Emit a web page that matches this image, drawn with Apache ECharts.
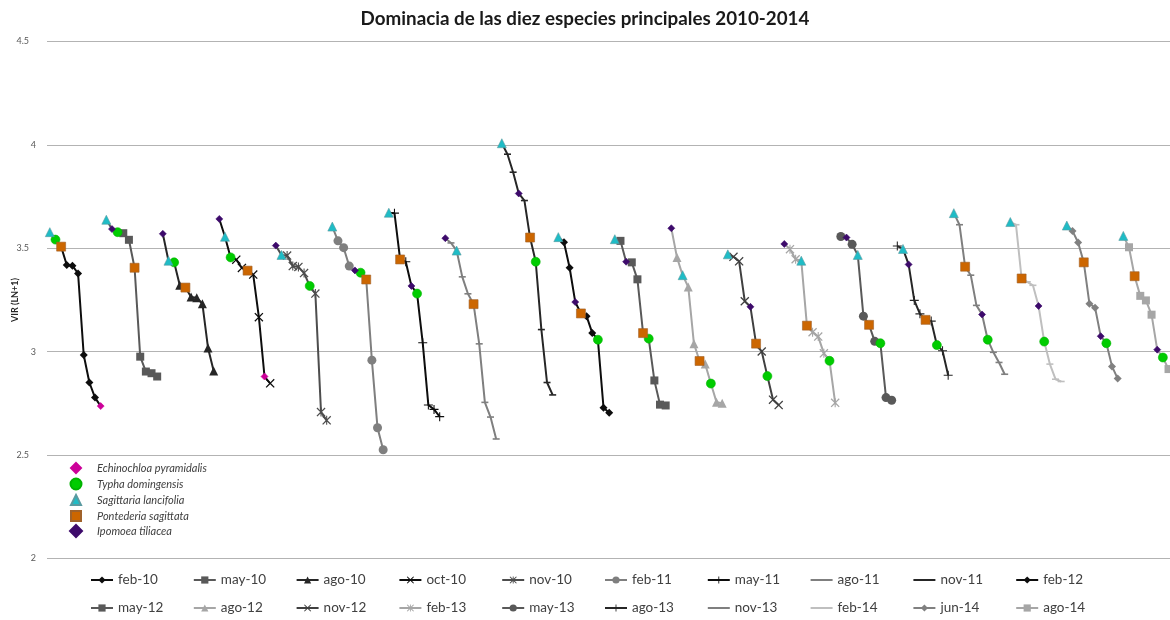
<!DOCTYPE html>
<html>
<head>
<meta charset="utf-8">
<script src="https://cdn.jsdelivr.net/npm/echarts@6/dist/echarts.min.js"></script>
<style>
  html, body { margin: 0; padding: 0; background: #ffffff; }
  #chart { width: 1170px; height: 620px; }
</style>
</head>
<body>
<div id="chart"></div>
<script>
// Sampling dates (one line each), ten ranked species per date
const dates = ['feb-10','may-10','ago-10','oct-10','nov-10','feb-11','may-11','ago-11','nov-11','feb-12',
               'may-12','ago-12','nov-12','feb-13','may-13','ago-13','nov-13','feb-14','jun-14','ago-14'];

// VIR (LN+1) of the ten dominant species, ranked, per date
const feb10 = [3.578,3.542,3.508,3.419,3.416,3.378,2.984,2.851,2.778,2.737];
const may10 = [3.638,3.593,3.578,3.573,3.541,3.406,2.976,2.904,2.896,2.880];
const ago10 = [3.570,3.440,3.432,3.321,3.310,3.265,3.261,3.232,3.018,2.907];
const oct10 = [3.642,3.556,3.456,3.445,3.405,3.392,3.373,3.167,2.880,2.847];
const nov10 = [3.513,3.468,3.465,3.414,3.410,3.380,3.318,3.281,2.708,2.668];
const feb11 = [3.605,3.536,3.503,3.414,3.393,3.382,3.349,2.959,2.632,2.526];
const may11 = [3.672,3.670,3.446,3.435,3.318,3.281,3.043,2.742,2.721,2.686];
const ago11 = [3.549,3.526,3.489,3.362,3.280,3.230,3.038,2.755,2.684,2.578];
const nov11 = [4.008,3.955,3.868,3.765,3.731,3.552,3.435,3.107,2.851,2.791];
const feb12 = [3.554,3.529,3.406,3.240,3.185,3.172,3.091,3.058,2.729,2.705];
const may12 = [3.544,3.536,3.435,3.432,3.350,3.090,3.063,2.861,2.744,2.740];
const ago12 = [3.597,3.456,3.370,3.313,3.039,2.955,2.940,2.846,2.756,2.751];
const nov12 = [3.471,3.459,3.437,3.244,3.217,3.039,3.001,2.882,2.768,2.742];
const feb13 = [3.521,3.496,3.447,3.440,3.126,3.094,3.073,2.992,2.956,2.753];
const may13 = [3.557,3.552,3.519,3.468,3.172,3.130,3.050,3.041,2.778,2.765];
const ago13 = [3.511,3.497,3.422,3.248,3.183,3.154,3.148,3.032,3.005,2.886];
const nov13 = [3.670,3.614,3.411,3.370,3.224,3.180,3.058,2.997,2.948,2.891];
const feb14 = [3.627,3.614,3.354,3.338,3.321,3.221,3.049,2.940,2.867,2.856];
const jun14 = [3.610,3.584,3.528,3.432,3.232,3.213,3.075,3.041,2.929,2.870];
const ago14 = [3.560,3.505,3.365,3.270,3.248,3.179,3.010,2.972,2.916,2.885];

const dateValues = [feb10,may10,ago10,oct10,nov10,feb11,may11,ago11,nov11,feb12,
                    may12,ago12,nov12,feb13,may13,ago13,nov13,feb14,jun14,ago14];

// Rank (1 = most dominant) of each highlighted species at each date; null = not among the ten
const echinochloaRank = [10,null,null,9,null,null,null,null,null,null,null,null,null,null,null,null,null,null,null,null];
const typhaRank       = [2,3,3,3,7,6,6,null,7,8,7,8,8,9,8,8,7,7,8,8];
const sagittariaRank  = [1,1,2,2,2,1,1,3,1,1,1,3,1,4,4,2,1,1,1,1];
const pontederiaRank  = [3,6,5,6,null,7,3,6,6,5,6,6,6,5,6,6,3,3,4,3];
const ipomoeaRank     = [null,2,1,1,1,5,5,1,4,4,3,1,5,1,2,3,6,6,7,7];

// Y axis ticks
const yMin = 2, yMax = 4.5, yStep = 0.5;

const RANKS = 10;

// Marker shapes
const SYM_X = 'path://M1,0 L5,4 L9,0 L10,1 L6,5 L10,9 L9,10 L5,6 L1,10 L0,9 L4,5 L0,1 Z';
const SYM_STAR = 'path://M1,0 L5,4 L9,0 L10,1 L6,5 L10,9 L9,10 L5,6 L1,10 L0,9 L4,5 L0,1 Z M4.4,0 H5.6 V10 H4.4 Z';
const SYM_PLUS = 'path://M4.4,0 H5.6 V4.4 H10 V5.6 H5.6 V10 H4.4 V5.6 H0 V4.4 H4.4 Z';
const SYM_DASH = 'path://M0,0 H10 V2 H0 Z';

// Line style for each date series
const dateStyles = [
  { color: '#0d0d0d', symbol: 'diamond',  size: 8 },
  { color: '#595959', symbol: 'rect',     size: 8 },
  { color: '#262626', symbol: 'triangle', size: 9 },
  { color: '#0d0d0d', symbol: SYM_X,      size: 9 },
  { color: '#4d4d4d', symbol: SYM_STAR,   size: 9 },
  { color: '#7f7f7f', symbol: 'circle',   size: 9 },
  { color: '#0d0d0d', symbol: SYM_PLUS,   size: 9 },
  { color: '#7f7f7f', symbol: SYM_DASH,   size: [7, 1.6], dash: true },
  { color: '#262626', symbol: SYM_DASH,   size: [7, 1.6], dash: true },
  { color: '#0d0d0d', symbol: 'diamond',  size: 8 },
  { color: '#595959', symbol: 'rect',     size: 8 },
  { color: '#a6a6a6', symbol: 'triangle', size: 9 },
  { color: '#404040', symbol: SYM_X,      size: 9 },
  { color: '#a6a6a6', symbol: SYM_STAR,   size: 9 },
  { color: '#595959', symbol: 'circle',   size: 9 },
  { color: '#262626', symbol: SYM_PLUS,   size: 9 },
  { color: '#7f7f7f', symbol: SYM_DASH,   size: [7, 1.6], dash: true },
  { color: '#bfbfbf', symbol: SYM_DASH,   size: [7, 1.6], dash: true },
  { color: '#808080', symbol: 'diamond',  size: 8 },
  { color: '#a6a6a6', symbol: 'rect',     size: 8 }
];

// Highlighted species (iconSize = key marker size)
const species = [
  { name: 'Echinochloa pyramidalis', ranks: echinochloaRank, color: '#cc0099', symbol: 'diamond',  size: 7, border: '#cc0099', iconSize: 10 },
  { name: 'Typha domingensis',       ranks: typhaRank,       color: '#00cc00', symbol: 'circle',   size: 9, border: '#00b300', iconSize: 11 },
  { name: 'Sagittaria lancifolia',   ranks: sagittariaRank,  color: '#1fbcc6', symbol: 'triangle', size: 9, border: '#5a9aa0', iconSize: 10 },
  { name: 'Pontederia sagittata',    ranks: pontederiaRank,  color: '#cc6600', symbol: 'rect',     size: 9, border: '#a0622a', iconSize: 10 },
  { name: 'Ipomoea tiliacea',        ranks: ipomoeaRank,     color: '#3d0a6b', symbol: 'diamond',  size: 7, border: '#3d0a6b', iconSize: 12 }
];

// Category axis: one slot per (date, rank)
const categories = [];
for (let i = 0; i < dates.length * RANKS; i++) categories.push(String(i));

// Slots already marked by a highlighted species keep only the line
function highlighted(s, r) {
  return species.some(sp => sp.ranks[s] === r + 1);
}

const series = [];
dates.forEach((d, s) => {
  const data = new Array(dates.length * RANKS).fill(null);
  dateValues[s].forEach((v, r) => {
    data[s * RANKS + r] = highlighted(s, r) ? { value: v, symbol: 'none' } : v;
  });
  const st = dateStyles[s];
  series.push({
    name: d,
    type: 'line',
    data: data,
    connectNulls: false,
    symbol: st.symbol,
    symbolSize: st.size,
    showSymbol: true,
    showAllSymbol: true,
    lineStyle: { color: st.color, width: 2 },
    itemStyle: { color: st.color, borderWidth: 0 },
    z: 2 + s * 0.01,
    emphasis: { disabled: true }
  });
});

species.forEach((sp, k) => {
  const pts = [];
  sp.ranks.forEach((rank, s) => {
    if (rank == null) return;
    const idx = rank - 1;
    pts.push([s * RANKS + idx, dateValues[s][idx]]);
  });
  series.push({
    name: sp.name,
    type: 'scatter',
    data: pts,
    symbol: sp.symbol,
    symbolSize: sp.size,
    itemStyle: { color: sp.color, borderColor: sp.border, borderWidth: 0.6, opacity: 1 },
    z: 5 + k * 0.01,
    emphasis: { disabled: true }
  });
});

const legendText = { color: '#404040', fontSize: 13.5, fontFamily: 'Lato' };

// Species key inside the plot: marker centred at x=75, text starting at x=96
const speciesRowY = [467, 483, 499, 515, 530];
const speciesLegends = species.map((sp, k) => ({
  data: [sp.name],
  left: 75 - sp.iconSize / 2,
  top: speciesRowY[k] - sp.iconSize / 2,
  padding: 0,
  itemWidth: sp.iconSize, itemHeight: sp.iconSize,
  selectedMode: false,
  textStyle: {
    color: '#404040', fontSize: 11, fontStyle: 'italic', fontFamily: 'Lato',
    padding: [0, 0, 0, 96 - (75 + sp.iconSize / 2) - 5]
  }
}));

// One legend block per sampling date, laid out in two rows of ten
const dateLegends = dates.map((d, k) => ({
  data: [dateStyles[k].dash ? { name: d, itemStyle: { opacity: 0 } } : d],
  left: 90 + (k % 10) * 102.8,
  top: k < 10 ? 573 : 601,
  padding: 0,
  itemWidth: 22, itemHeight: 9,
  selectedMode: false,
  textStyle: legendText
}));

const chart = echarts.init(document.getElementById('chart'), null, { renderer: 'canvas' });
chart.setOption({
  animation: false,
  backgroundColor: '#ffffff',
  title: {
    text: 'Dominacia de las diez especies principales 2010-2014',
    left: 'center',
    top: 4,
    textStyle: { fontSize: 18.8, fontWeight: 'bold', color: '#1a1a1a', fontFamily: 'Lato' }
  },
  grid: { left: 47, right: -7, top: 41.5, bottom: 61.5, outerBoundsMode: 'none', containLabel: false },
  xAxis: {
    type: 'category',
    data: categories,
    boundaryGap: true,
    axisLine: { show: false },
    axisTick: { show: false },
    axisLabel: { show: false },
    splitLine: { show: false }
  },
  yAxis: {
    type: 'value',
    min: yMin,
    max: yMax,
    interval: yStep,
    name: 'VIR (LN+1)',
    nameLocation: 'middle',
    nameRotate: 90,
    nameGap: 27,
    nameMoveOverlap: false,
    nameTextStyle: { fontSize: 9, fontWeight: 'bold', color: '#262626', fontFamily: 'Lato' },
    axisLine: { show: false },
    axisTick: { show: false },
    axisLabel: {
      color: '#595959', fontSize: 9, fontFamily: 'Lato', margin: 11,
      formatter: v => Number.isInteger(v) ? String(v) : '{h|' + v + '}',
      rich: { h: { color: '#595959', fontSize: 9, fontFamily: 'Lato', padding: [0, 7, 0, 0] } }
    },
    splitLine: { lineStyle: { color: '#b3b3b3', width: 1 } }
  },
  legend: speciesLegends.concat(dateLegends),
  series: series
});
</script>
</body>
</html>
